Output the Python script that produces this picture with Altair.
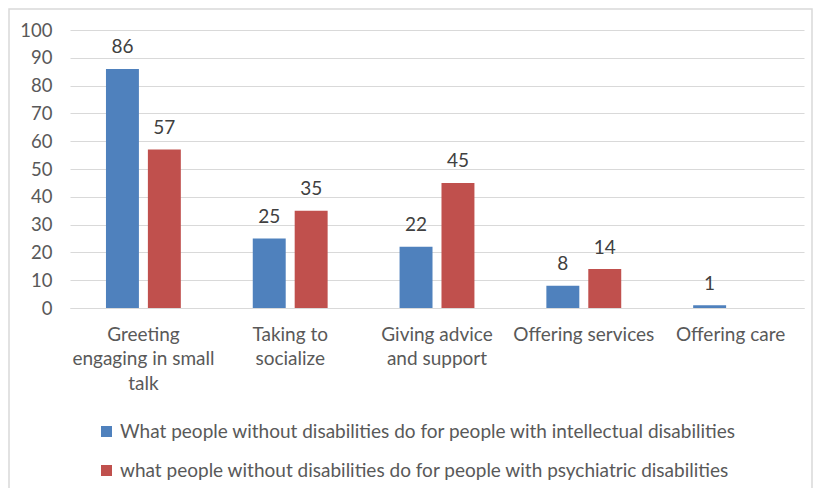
import json
import altair as alt
import pandas as pd

categories = [
    "Greeting engaging in small talk",
    "Taking to socialize",
    "Giving advice and support",
    "Offering services",
    "Offering care",
]
label_lines = [
    ["Greeting", "engaging in small", "talk"],
    ["Taking to", "socialize"],
    ["Giving advice", "and support"],
    ["Offering services"],
    ["Offering care"],
]
series = [
    "What people without disabilities do for people with intellectual disabilities",
    "what people without disabilities do for people with psychiatric disabilities",
]
intellectual = [86, 25, 22, 8, 1]
psychiatric = [57, 35, 45, 14, None]
colors = ["#4F81BD", "#C0504D"]
y_ticks = list(range(0, 101, 10))

rows = []
for c, a, b in zip(categories, intellectual, psychiatric):
    if a is not None:
        rows.append({"category": c, "series": series[0], "value": a})
    if b is not None:
        rows.append({"category": c, "series": series[1], "value": b})
df = pd.DataFrame(rows)

label_map = json.dumps(dict(zip(categories, label_lines)))
FONT = "Lato"

x = alt.X(
    "category:N",
    sort=categories,
    scale=alt.Scale(domain=categories, paddingInner=0.49, paddingOuter=0.245),
    axis=alt.Axis(
        title=None,
        labelAngle=0,
        labelExpr=f"{label_map}[datum.label]",
        labelFont=FONT,
        labelFontSize=19,
        labelColor="#595959",
        labelLineHeight=24.5,
        labelPadding=17,
        labelBaseline="top",
        ticks=False,
        domain=True,
        domainColor="#d9d9d9",
        domainWidth=1,
        grid=False,
    ),
)
xoff = alt.XOffset(
    "series:N",
    sort=series,
    scale=alt.Scale(domain=series, paddingInner=0.214, paddingOuter=0),
)
y = alt.Y(
    "value:Q",
    scale=alt.Scale(domain=[0, 100], nice=False),
    axis=alt.Axis(
        title=None,
        values=y_ticks,
        labelFont=FONT,
        labelFontSize=18.5,
        labelColor="#595959",
        labelPadding=18,
        ticks=False,
        domain=False,
        grid=True,
        gridColor="#d9d9d9",
        gridWidth=1,
    ),
)
color = alt.Color(
    "series:N",
    sort=series,
    scale=alt.Scale(domain=series, range=colors),
    legend=alt.Legend(
        title=None,
        orient="none",
        legendX=27,
        legendY=392,
        direction="vertical",
        symbolType="square",
        symbolSize=121,
        symbolStrokeWidth=0,
        labelFont=FONT,
        labelFontSize=19,
        labelColor="#595959",
        labelOffset=4,
        rowPadding=19,
        labelLimit=800,
    ),
)

base = alt.Chart(df)
bars = base.mark_bar().encode(x=x, xOffset=xoff, y=y, color=color)
labels = base.mark_text(
    baseline="alphabetic", dy=-15.5, font=FONT, fontSize=19, color="#404040"
).encode(x=x, xOffset=xoff, y=y, text="value:Q")

border = alt.Chart(alt.Data(values=[{}])).mark_rect(
    fill=None, stroke="#d9d9d9", strokeWidth=1.5
).encode(
    x=alt.value(-61),
    x2=alt.value(742),
    y=alt.value(-21),
    y2=alt.value(475),
)

chart = (
    alt.layer(border, bars, labels)
    .properties(
        width=734,
        height=278,
        autosize=alt.AutoSizeParams(type="none"),
        padding={"left": 62, "top": 22, "right": 9, "bottom": 180},
        background="white",
    )
    .configure_view(stroke=None)
)

chart.save("out.html", embed_options={"renderer": "svg", "actions": False})
